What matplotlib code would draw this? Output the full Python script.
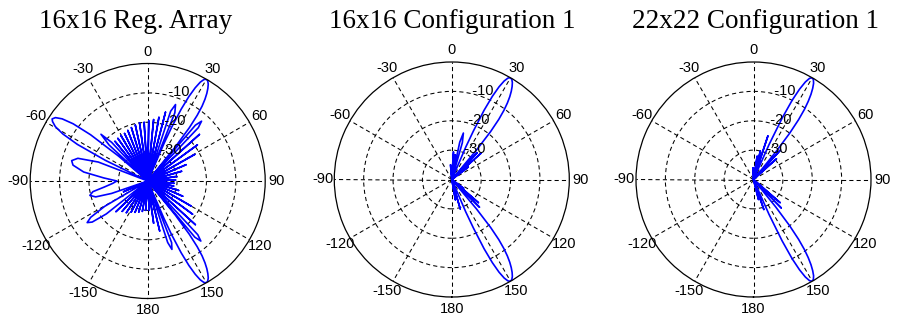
import matplotlib.pyplot as plt
import numpy as np

plt.rcParams['font.family'] = ['Liberation Sans', 'DejaVu Sans']

titles = ['16x16 Reg. Array', '16x16 Configuration 1', '22x22 Configuration 1']
angle_ticks = [0, 30, 60, 90, 120, 150, 180, -150, -120, -90, -60, -30]
ring_ticks = [-30, -20, -10]

# 16x16 regular array (angle in deg, gain in dB)
reg_theta = [-180, -176, -173, -170, -167, -164, -161, -158, -155, -152, -149, -146, -143,
             -140, -137, -134, -131, -128.5, -126.5, -124.5, -122.5, -120.5, -118, -114, -111,
             -109, -107, -104, -101, -98, -94, -90, -86, -82, -78, -75, -72, -69, -66,
             -64, -62.5, -61, -59.5, -58, -57, -55.5, -54, -52.5, -51, -49.5, -48.5,
             -47, -45, -43, -42, -39.5, -37.3, -35, -32.8, -30.5, -28.3, -26, -23.8, -21.5,
             -19.3, -17, -14.8, -12.5, -10.3, -8, -5.8, -3.5, -1.3, 1, 3.3, 5.5, 7.8, 10,
             12.3, 14.5, 16.8, 18.2, 20, 21.7,
             23, 23.5, 24, 25, 26, 27, 28, 29, 30, 31, 32, 33, 34, 35, 36, 37, 38, 39, 39.5,
             40.5, 42, 43.5, 45, 48, 51, 54, 57, 60.5, 64, 67, 70.5, 74, 77.5, 81,
             84.5, 88, 91.5, 95, 98, 101, 104, 107, 110, 113.5, 117, 120, 123, 126.5, 130,
             132.5, 135, 137, 138.5, 140,
             140.5, 141, 142, 143, 144, 145, 146, 147, 148, 149, 150, 151, 152, 153, 154,
             155, 156, 156.5, 157,
             158.8, 160.5, 162, 163.5, 166.5, 169.5, 172, 174.5, 177, 180]
reg_db = [-40, -30, -40, -29.5, -40, -29, -40, -28.5, -40, -28, -40, -27, -40,
          -26.5, -40, -25, -40, -22, -16.5, -15, -17, -23, -40, -31, -40,
          -27, -21.5, -19.7, -21, -25, -28, -29.5, -25, -18, -14, -13.2, -15, -22, -40,
          -24, -13, -7, -3.5, -1.8, -1.2, -1.9, -4, -8, -15, -27, -40,
          -22, -17.5, -22, -40, -22.5, -40, -22.3, -40, -22, -40, -22, -40, -21.5,
          -40, -21, -40, -20.5, -40, -20, -40, -20, -40, -19.5, -40, -19, -40, -18,
          -40, -15.8, -40, -15, -12.3, -15,
          -40, -26, -20, -13, -8, -4.4, -1.9, -0.5, 0, -0.3, -1.1, -2.4, -4, -6, -8.5, -12,
          -17, -25, -40,
          -15, -12.6, -15, -40, -16.3, -40, -19.1, -40, -21.6, -40, -25.8, -40, -28, -40, -30,
          -40, -30.5, -40, -31, -40, -31, -40, -29, -40, -27, -40, -23, -40, -21, -40,
          -18, -40, -15, -12.7, -15,
          -40, -25, -17, -12, -8.5, -6, -4, -2.4, -1.1, -0.3, 0, -0.5, -1.9, -4.4, -8,
          -13, -20, -26, -40,
          -17.5, -15.3, -18, -40, -22.5, -40, -25.5, -40, -30, -40]

# 16x16 configuration 1
cfg16_theta = [-180, -10, -5, -2, 1.5, 3.5, 5.5, 8, 10, 12, 14, 16, 18,
               22.8, 23.3, 24, 25, 26, 27, 28, 29, 30, 31, 32, 33, 34, 35, 36, 37, 38,
               39, 40, 40.8,
               43.5, 45.5, 48, 50.5, 53, 55.5, 125, 127, 129, 131, 133, 135, 137,
               139.2, 140, 141, 142, 143, 144, 145, 146, 147, 148, 149, 150, 151, 152, 153,
               154, 155, 156, 156.7, 157.2, 164, 167, 170, 173, 180]
cfg16_db = [-40, -40, -35, -40, -40, -30.7, -40, -31.5, -40, -27, -23.7, -27, -40,
            -40, -28, -22, -14, -8.5, -4.6, -2, -0.5, 0, -0.3, -1.1, -2.3, -3.8, -5.6, -7.8,
            -10.5, -14, -19, -27, -40,
            -27.5, -40, -26.6, -40, -33, -40, -40, -35, -40, -28, -40, -26.7, -40,
            -40, -27, -19, -14, -10.5, -7.8, -5.6, -3.8, -2.3, -1.1, -0.3, 0, -0.5, -2, -4.6,
            -8.5, -14, -22, -28, -40, -29.6, -40, -33, -40, -40]

# 22x22 configuration 1
cfg22_theta = [-180, -5, -2, 0, 7, 9, 11, 13.5, 15.5, 18.3, 20.5,
               23.5, 24, 25, 26, 27, 28, 29, 30, 31, 32, 33, 34, 35, 36, 37, 38, 39, 39.8,
               42.5, 45, 48, 51, 128, 131, 133, 135.7, 138,
               140.2, 141, 142, 143, 144, 145, 146, 147, 148, 149, 150, 151, 152, 153, 154,
               155, 156, 156.5,
               159, 161, 163, 166, 169, 180]
cfg22_db = [-40, -40, -36, -40, -40, -32, -40, -30, -40, -24.4, -40,
            -40, -27, -17, -10, -5.5, -2.4, -0.6, 0, -0.4, -1.4, -3, -5, -7.5, -10.5, -14.5,
            -20, -28, -40,
            -26.4, -40, -29.5, -40, -40, -28, -40, -26.5, -40,
            -40, -28, -20, -14.5, -10.5, -7.5, -5, -3, -1.4, -0.4, 0, -0.6, -2.4, -5.5, -10,
            -17, -27, -40,
            -40, -29.2, -40, -33, -40, -40]

patterns = [(reg_theta, reg_db), (cfg16_theta, cfg16_db), (cfg22_theta, cfg22_db)]

W, H = 898, 321
fig = plt.figure(figsize=(W / 100, H / 100), dpi=100)

# axes centres / radius in pixels
centres = [(147.7, 181.0), (451.8, 179.5), (753.5, 179.5)]
rad = 117.5
title_x = [136, 452, 755.5]

for i, (th, db) in enumerate(patterns):
    cx, cy = centres[i]
    ax = fig.add_axes([(cx - rad) / W, (H - cy - rad) / H, 2 * rad / W, 2 * rad / H],
                      projection='polar')
    ax.set_theta_zero_location('N')
    ax.set_theta_direction(-1)
    ax.set_xticks(np.deg2rad(angle_ticks))
    ax.set_xticklabels([])
    ax.set_thetamin(-180)
    ax.set_thetamax(180)
    ax.set_ylim(-40, 0)
    ax.set_yticks(ring_ticks)
    ax.set_yticklabels([])
    ax.tick_params(length=0)
    ax.grid(True, color='k', linestyle=(0, (4, 3)), linewidth=0.75)
    ax.spines['polar'].set_color('k')
    ax.spines['polar'].set_linewidth(0.9)

    ax.plot(np.deg2rad(th), db, color='#0000ff', lw=1.2)

    for a in angle_ticks:
        ax.text(np.deg2rad(a), 4, str(a), ha='center', va='center', fontsize=10.5)
    for r in ring_ticks:
        ax.text(np.deg2rad(8), r + 0.5, '  ' + str(r), ha='left', va='center', fontsize=10.5)

    fig.text(title_x[i] / W, 1 - 28 / H, titles[i], ha='center', va='baseline',
             fontsize=19.5, family='Liberation Serif')

fig.savefig('out.png', dpi=100)
